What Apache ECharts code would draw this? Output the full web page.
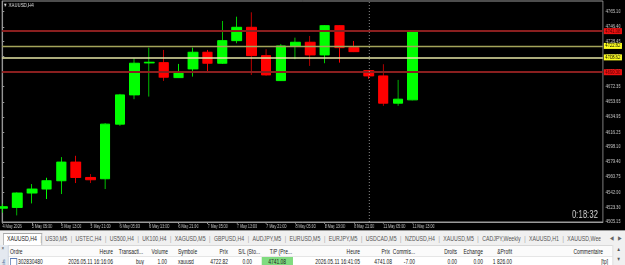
<!DOCTYPE html>
<html>
<head>
<meta charset="utf-8">
<script src="https://cdn.jsdelivr.net/npm/echarts@6/dist/echarts.min.js"></script>
<style>
html,body{margin:0;padding:0;width:625px;height:265px;overflow:hidden;background:#f0f0f0;}
#wrap{position:absolute;left:0;top:0;width:800px;height:265px;transform:scaleX(0.78125);transform-origin:0 0;font-family:'Liberation Sans',Arial,sans-serif;}
#chart{position:absolute;left:0;top:0;width:800px;height:230px;background:#000;}
#panel{position:absolute;left:0;top:230px;width:800px;height:35px;background:#f0f0f0;overflow:hidden;}
#tabbar{position:absolute;left:0;top:0;width:800px;height:13px;background:#f0f0f0;border-top:1px solid #9a9a9a;}
#activetab{position:absolute;left:4px;top:2px;width:48px;height:11px;background:#fff;border:1px solid #a9a9a9;border-bottom:none;}
#tabs{position:absolute;left:9px;top:3px;height:9px;display:flex;align-items:center;font-size:6.7px;color:#555;white-space:nowrap;width:760px;overflow:hidden;}
#tabs .sep{margin:0 4.5px;color:#999;}
#tabs .act{color:#222;}
.arrow{position:absolute;top:3px;font-size:6px;color:#666;line-height:9px;}
#table{position:absolute;left:0;top:15px;width:800px;height:20px;background:#fff;border-top:1px solid #d8d8d8;}
#hdr{position:absolute;left:0;top:0;width:800px;height:10px;background:#fbfbfb;border-bottom:1px solid #e6e6e6;}
.cell{position:absolute;font-size:6.3px;line-height:9px;height:9px;white-space:nowrap;color:#222;}
#strip{position:absolute;left:0;top:15px;width:10px;height:20px;background:#e4e9f0;border-right:1px solid #c8d0dc;overflow:hidden;}
#strip .x{position:absolute;left:2px;top:0px;font-size:6px;color:#444;}
#strip .vt{position:absolute;left:-18px;top:20px;width:46px;font-size:5.5px;color:#2a4f8a;transform:rotate(-90deg);white-space:nowrap;}
#tpbox{position:absolute;top:11px;height:8px;background:#7fdc7f;}
#icon{position:absolute;top:12px;width:7px;height:6px;border:1px solid #5a7bb5;background:#fff;}
#sb{position:absolute;right:0;top:15px;width:15px;height:20px;background:#f0f0f0;border-left:1px solid #dcdcdc;}
#sb div{position:absolute;left:4px;font-size:5.5px;color:#555;}
</style>
</head>
<body>
<div id="wrap">
  <div id="chart"></div>
  <div id="panel">
    <div id="tabbar"><div id="activetab"></div><div id="tabs"></div>
      <div class="arrow" style="left:781px">&#9664;</div><div class="arrow" style="left:791px">&#9654;</div>
    </div>
    <div id="table"><div id="hdr"></div><div id="tpbox"></div><div id="icon"></div></div>
    <div id="strip"><div class="x">&#215;</div><div class="vt">Boîte à outils</div></div>
    <div id="sb"><div style="top:1px">&#9650;</div><div style="top:11px">&#9660;</div></div>
  </div>
</div>
<script>
// ---------------- data ----------------
const times = ['2026.05.04 21:00','2026.05.05 01:00','2026.05.05 05:00','2026.05.05 09:00','2026.05.05 13:00','2026.05.05 17:00','2026.05.05 21:00',
  '2026.05.06 01:00','2026.05.06 05:00','2026.05.06 09:00','2026.05.06 13:00','2026.05.06 17:00','2026.05.06 21:00',
  '2026.05.07 01:00','2026.05.07 05:00','2026.05.07 09:00','2026.05.07 13:00','2026.05.07 17:00','2026.05.07 21:00',
  '2026.05.08 01:00','2026.05.08 05:00','2026.05.08 09:00','2026.05.08 13:00','2026.05.08 17:00','2026.05.08 21:00',
  '2026.05.11 01:00','2026.05.11 05:00','2026.05.11 09:00','2026.05.11 13:00'];
const open  = [4522.19,4523.18,4540.95,4545.89,4556.13,4579.21,4560.20,4558.60,4626.12,4662.28,4701.78,4702.15,4683.63,4694.37,4714.99,4701.41,4729.30,4745.84,4710.79,4679.93,4722.76,4727.33,4711.65,4747.82,4720.66,4692.28,4685.73,4652.04,4656.11];
const close = [4524.04,4540.95,4545.89,4556.13,4579.21,4560.20,4557.37,4626.12,4662.28,4701.41,4702.64,4684.13,4691.04,4714.99,4701.41,4729.30,4745.84,4710.79,4686.97,4722.76,4727.33,4711.65,4747.82,4720.66,4715.73,4685.73,4652.04,4656.97,4741.08];
const low   = [4516.63,4513.30,4528.11,4533.54,4539.72,4553.29,4553.29,4545.89,4624.02,4656.97,4660.18,4679.56,4683.26,4684.87,4691.04,4700.50,4726.09,4686.97,4686.00,4679.50,4706.35,4698.08,4701.41,4702.15,4715.20,4682.03,4648.70,4648.70,4655.50];
const high  = [4527.74,4541.94,4552.06,4559.83,4585.38,4586.99,4564.40,4627.35,4663.52,4707.58,4720.66,4717.82,4700.54,4720.66,4717.82,4753.62,4758.93,4764.36,4718.69,4725.23,4733.01,4735.11,4748.50,4748.30,4728.93,4692.80,4700.17,4680.80,4741.50];

const xTickIndex  = [0,2,4,6,8,10,12,14,16,18,20,22,24,26,28];
const xTickLabels = ['4 May 2026','5 May 05:00','5 May 13:00','5 May 21:00','6 May 05:00','6 May 13:00','6 May 21:00','7 May 05:00','7 May 13:00','7 May 21:00','8 May 05:00','8 May 13:00','8 May 21:00','11 May 05:00','11 May 13:00'];
const yTickValues = [4505.15,4523.30,4542.00,4560.75,4579.40,4598.10,4616.25,4634.95,4653.65,4672.35,4691.05,4709.75,4728.45,4746.40,4765.10];

const levelValues = [4741.08, 4722.82, 4708.62, 4690.30];
const levelKinds  = ['tp', 'entry', 'bid', 'sl'];
const markerBar = 25;

const tabNames = ['XAUUSD,H4','US30,M5','USTEC,H4','US500,H4','UK100,H4','XAGUSD,M5','GBPUSD,H4','AUDJPY,M5','EURUSD,M5','EURJPY,M5','USDCAD,M5','NZDUSD,H4','XAUUSD,M5','CADJPY,Weekly','XAUUSD,H1','XAUUSD,Weekly'];
const headerTexts = ['Ordre','Heure','Transacti...','Volume','Symbole','Prix','S/L (Sto...','T/P (Pre...','Heure','Prix','Commis...','Droits','Echange','&Profit','Commentaire'];
const rowTexts    = ['302830480','2026.05.11 16:16:06','buy','1.00','xauusd','4722.82','0.00','4741.08','2026.05.11 16:41:05','4741.08','-7.00','0.00','0.00','1 826.00','[tp]'];

// ---------------- layout (final-pixel positions) ----------------
const S = 1.28;
const headerPos = [['l',10],['r',113],['r',143],['r',168],['l',178],['r',228],['r',260],['r',292],['r',360],['r',390],['r',415],['r',457],['r',483],['r',512],['r',603]];
const rowPos    = [['l',18],['r',113],['r',144],['r',167],['l',178],['r',228],['r',252],['r',286],['r',360],['r',392],['r',415],['r',457],['r',483],['r',512],['r',608]];

function place(parent, text, pos, top){
  const d = document.createElement('div');
  d.className = 'cell';
  d.textContent = text;
  d.style.top = top + 'px';
  if (pos[0] === 'l') d.style.left = (pos[1]*S) + 'px';
  else d.style.right = (800 - pos[1]*S) + 'px';
  return parent.appendChild(d);
}
const table = document.getElementById('table');
headerTexts.forEach((t,i)=>place(table, t, headerPos[i], 0.5));
rowTexts.forEach((t,i)=>place(table, t, rowPos[i], 10.5));
const tp = document.getElementById('tpbox'); tp.style.left = (262*S)+'px'; tp.style.width = (31*S)+'px';
document.getElementById('icon').style.left = (10*S)+'px';

const tabs = document.getElementById('tabs');
tabNames.forEach((n,i)=>{
  const s = document.createElement('span'); s.textContent = n; if(i===0) s.className='act'; tabs.appendChild(s);
  if (i < tabNames.length-1){ const p = document.createElement('span'); p.className='sep'; p.textContent='|'; tabs.appendChild(p); }
});

// ---------------- chart ----------------
const rows = times.map((t,i)=>[i, open[i], close[i], low[i], high[i]]);
const levelStyle = {
  tp:    {line:'#8a1f1f', w:2,   bg:'#ee1111', fg:'#4a0000'},
  entry: {line:'#a3a35a', w:1.3, bg:'#ffff22', fg:'#000'},
  bid:   {line:'#e6e6a6', w:1.5, bg:'#ffff22', fg:'#000'},
  sl:    {line:'#8a1f1f', w:2,   bg:'#ee1111', fg:'#4a0000'}
};
const markData = levelValues.map((v,i)=>{
  const st = levelStyle[levelKinds[i]];
  return {yAxis:v, lineStyle:{color:st.line, width:st.w, type:'solid'},
    label:{show:true, position:'end', distance:1, formatter:()=>v.toFixed(2), fontSize:5.3, lineHeight:6, padding:[0,2,0,2],
      backgroundColor:st.bg, color:st.fg, fontFamily:'Liberation Sans'}};
});
markData.push({xAxis:markerBar, lineStyle:{color:'#c8c8c8', width:1, type:[1,2]}, label:{show:false}});

const chart = echarts.init(document.getElementById('chart'), null, {renderer:'canvas', width:800, height:230});
chart.setOption({
  backgroundColor:'#000',
  animation:false,
  grid:{left:2.6, right:28.2, top:1, bottom:8, show:true, borderColor:'#9a9a9a', borderWidth:1, backgroundColor:'transparent'},
  xAxis:{type:'value', min:-0.04, max:41.0,
    axisLine:{show:true, lineStyle:{color:'#9a9a9a', width:1}},
    axisTick:{show:true, customValues:xTickIndex, length:2, lineStyle:{color:'#9a9a9a'}},
    axisLabel:{show:true, customValues:xTickIndex, formatter:v=>xTickLabels[xTickIndex.indexOf(v)] || '', align:'left', margin:2,
      fontSize:4.7, color:'#c8c8c8', fontFamily:'Liberation Sans'},
    splitLine:{show:false}},
  yAxis:{type:'value', position:'right', min:4505.15, max:4778.33, scale:true,
    axisLine:{show:true, lineStyle:{color:'#9a9a9a', width:1}},
    axisTick:{show:true, customValues:yTickValues, length:2, lineStyle:{color:'#9a9a9a'}},
    axisLabel:{show:true, customValues:yTickValues, formatter:v=>v.toFixed(2), margin:3.5, fontSize:5.3, color:'#c8c8c8', fontFamily:'Liberation Sans'},
    splitLine:{show:false}},
  series:[{
    type:'candlestick', data:rows, encode:{x:0, y:[1,2,3,4]}, barWidth:13, clip:true,
    itemStyle:{color:'#00ff00', color0:'#ff0000', borderColor:'#00ff00', borderColor0:'#ff0000', borderWidth:1},
    markLine:{silent:true, symbol:['none','none'], animation:false, data:markData}
  }],
  graphic:[
    {type:'text', x:4, y:2.5, style:{text:'\u25BC XAUUSD,H4', fontSize:5.6, fill:'#e0e0e0', fontFamily:'Liberation Sans'}},
    {type:'text', x:732, y:210, style:{text:'0:18:32', fontSize:10, fill:'#d4d4d4', fontFamily:'Liberation Sans'}}
  ]
});
</script>
</body>
</html>
